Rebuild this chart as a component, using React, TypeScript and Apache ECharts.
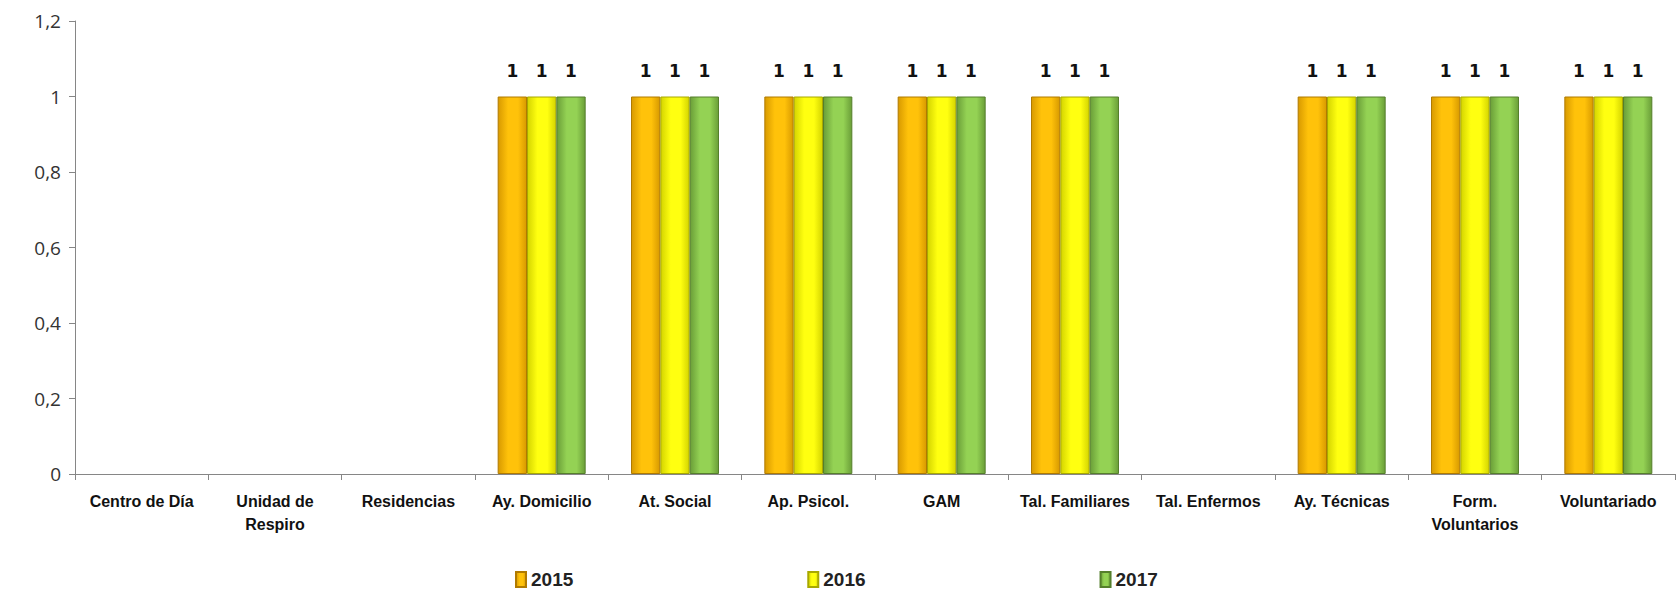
import React, { useEffect, useRef } from "react";
import * as echarts from "echarts";

const categories = [
  "Centro de Día",
  "Unidad de\nRespiro",
  "Residencias",
  "Ay. Domicilio",
  "At. Social",
  "Ap. Psicol.",
  "GAM",
  "Tal. Familiares",
  "Tal. Enfermos",
  "Ay. Técnicas",
  "Form.\nVoluntarios",
  "Voluntariado",
];
const years = ["2015", "2016", "2017"];
const values2015 = [0, 0, 0, 1, 1, 1, 1, 1, 0, 1, 1, 1];
const values2016 = [0, 0, 0, 1, 1, 1, 1, 1, 0, 1, 1, 1];
const values2017 = [0, 0, 0, 1, 1, 1, 1, 1, 0, 1, 1, 1];
const yTicks = { min: 0, max: 1.2, interval: 0.2 };

const palette = [
  { edge: "#D89A00", mid: "#FFC20A", border: "#B07A00" },
  { edge: "#D4D400", mid: "#FFFF10", border: "#A8A800" },
  { edge: "#6A9E38", mid: "#94D254", border: "#557F2C" },
];

const grad = (p: { edge: string; mid: string }) =>
  new echarts.graphic.LinearGradient(0, 0, 1, 0, [
    { offset: 0, color: p.edge },
    { offset: 0.35, color: p.mid },
    { offset: 0.7, color: p.mid },
    { offset: 1, color: p.edge },
  ]);

export default function App() {
  const ref = useRef<HTMLDivElement>(null);
  useEffect(() => {
    if (!ref.current) return;
    const chart = echarts.init(ref.current, undefined, { renderer: "svg" });
    const allValues = [values2015, values2016, values2017];
    const font = "'Liberation Sans Narrow', 'Liberation Sans', 'Open Sans', sans-serif";
    chart.setOption({
      animation: false,
      backgroundColor: "#ffffff",
      grid: { left: 75, right: 3, top: 21, bottom: 120, containLabel: false },
      legend: {
        data: years,
        bottom: 0,
        left: 510,
        itemGap: 234,
        itemWidth: 10,
        itemHeight: 15,
        icon: "rect",
        textStyle: {
          fontFamily: font,
          fontWeight: "bold",
          fontSize: 19,
          color: "#222",
        },
      },
      xAxis: {
        type: "category",
        data: categories,
        axisLine: { lineStyle: { color: "#868686", width: 1 } },
        axisTick: { show: true, alignWithLabel: false, length: 6, lineStyle: { color: "#868686" } },
        axisLabel: {
          interval: 0,
          margin: 16,
          fontFamily: font,
          fontWeight: "bold",
          fontSize: 16,
          color: "#111",
          lineHeight: 23,
        },
      },
      yAxis: {
        type: "value",
        min: yTicks.min,
        max: yTicks.max,
        interval: yTicks.interval,
        splitLine: { show: false },
        axisLine: { show: true, lineStyle: { color: "#868686" } },
        axisTick: { show: true, length: 6, lineStyle: { color: "#868686" } },
        axisLabel: {
          margin: 14,
          fontFamily: "'Open Sans', 'Liberation Sans', sans-serif",
          fontSize: 19,
          color: "#333",
          formatter: (v: number) => String(Math.round(v * 10) / 10).replace(".", ","),
        },
      },
      series: years.map((y, i) => ({
        name: y,
        type: "bar",
        barGap: "0%",
        barCategoryGap: "34%",
        data: allValues[i].map((v) => (v === 0 ? "-" : v)),
        itemStyle: {
          color: grad(palette[i]),
          borderColor: palette[i].border,
          borderWidth: 1,
        },
        label: {
          show: true,
          position: "top",
          distance: 17,
          fontFamily: "'DejaVu Sans', sans-serif",
          fontWeight: "bold",
          fontSize: 17,
          color: "#111",
        },
      })),
    });
    return () => chart.dispose();
  }, []);
  return (
    <div
      ref={ref}
      style={{ position: "fixed", left: 0, top: 0, width: 1678, height: 594 }}
    />
  );
}
